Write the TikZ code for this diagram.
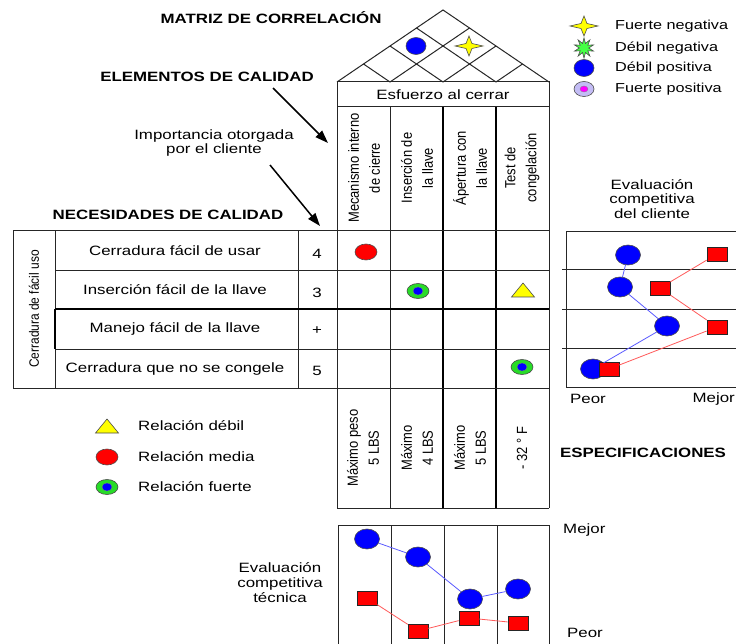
\documentclass[tikz,border=0pt]{standalone}
\usepackage{fontspec}
\setmainfont{Liberation Sans}[FakeStretch=1.25]
\newfontfamily\rotfont{Liberation Sans}[FakeStretch=0.88]
\usetikzlibrary{arrows.meta,shapes.geometric}

\definecolor{qblue}{RGB}{0,0,255}
\definecolor{qred}{RGB}{255,0,0}
\definecolor{qgreen}{RGB}{40,220,40}
\definecolor{qburst}{RGB}{70,255,70}
\definecolor{qyellow}{RGB}{255,255,0}
\definecolor{qlav}{RGB}{195,188,245}
\definecolor{qmag}{RGB}{255,0,255}
\definecolor{qbline}{RGB}{90,90,255}
\definecolor{qrline}{RGB}{255,90,90}

\tikzset{
  grid/.style={line width=1pt, draw=black!85},
  heavy/.style={line width=1.9pt, draw=black},
  txt/.style={font=\fontsize{13.5}{16}\selectfont, inner sep=0pt},
  small/.style={font=\fontsize{13}{15}\selectfont, inner sep=0pt},
  ttl/.style={font=\bfseries\fontsize{13.5}{16}\selectfont, inner sep=0pt},
  vtxt/.style={rotate=90, align=center, inner sep=0pt, font=\rotfont\fontsize{14.7}{21}\selectfont},
  arr/.style={-{Triangle[length=13pt,width=9pt]}, line width=1.5pt},
  sym/.style={draw=black!70, line width=0.6pt, inner sep=0pt},
  bluedot/.style={sym, ellipse, fill=qblue, minimum width=20pt, minimum height=17pt},
  reddot/.style={sym, ellipse, fill=qred, minimum width=22pt, minimum height=16pt},
  strongout/.style={sym, ellipse, fill=qgreen, minimum width=22pt, minimum height=15pt},
  stronginner/.style={ellipse, fill=qblue, draw=black!50, line width=0.3pt, inner sep=0pt, minimum width=10pt, minimum height=8pt},
  lavout/.style={sym, ellipse, fill=qlav, minimum width=20pt, minimum height=15pt},
  lavinner/.style={ellipse, fill=qmag, draw=black!50, line width=0.3pt, inner sep=0pt, minimum width=8pt, minimum height=6pt},
  burst/.style={sym, star, star points=10, star point ratio=2.1, fill=qburst, minimum size=20pt},
  chartdot/.style={sym, ellipse, fill=qblue, minimum width=25pt, minimum height=20pt},
  chartsq/.style={sym, rectangle, fill=qred, draw=black!85, minimum width=20pt, minimum height=14pt},
  bline/.style={draw=qbline, line width=0.8pt},
  rline/.style={draw=qrline, line width=0.8pt},
  pics/fourstar/.style={code={
    \draw[fill=qyellow, draw=black!70, line width=0.6pt]
      (-14,0) -- (-3,-2.5) -- (0,-10) -- (3,-2.5) -- (14,0) -- (3,2.5) -- (0,10) -- (-3,2.5) -- cycle;}},
  pics/triup/.style={code={
    \draw[fill=qyellow, draw=black!70, line width=0.6pt] (0,-8) -- (11.5,6) -- (-11.5,6) -- cycle;}}
}

\begin{document}
\begin{tikzpicture}[x=1pt, y=-1pt]
\useasboundingbox (0,0) rectangle (736,644);
\fill[white] (0,0) rectangle (736,644);

% ---- roof: correlation matrix ----
\draw[grid] (337,82) -- (443,10) -- (549,82);
\draw[grid] (390,82) -- (469.5,28);
\draw[grid] (443,82) -- (496,46);
\draw[grid] (496,82) -- (522.5,64);
\draw[grid] (390,82) -- (363.5,64);
\draw[grid] (443,82) -- (390,46);
\draw[grid] (496,82) -- (416.5,28);
\node[bluedot] (roofdot) at (416,46) {};
\pic (roofstar) at (469,46) {fourstar};

% ---- header box and column headers ----
\draw[grid] (337,82) rectangle (549,107);
\node[txt] (esf) at (443,95) {Esfuerzo al cerrar};
\draw[grid] (337,107) -- (337,508);
\draw[grid] (549,107) -- (549,508);
\draw[grid] (390,107) -- (390,508);
\draw[heavy] (443,107) -- (443,508);
\draw[heavy] (496,107) -- (496,508);
\node[vtxt] (h1) at (364,168) {Mecanismo interno\\de cierre};
\node[vtxt] (h2) at (417,168) {Inserción de\\la llave};
\node[vtxt] (h3) at (470,168) {Ápertura con\\la llave};
\node[vtxt] (h4) at (522,168) {Test de\\congelación};

% ---- needs table and relationship grid ----
\draw[grid] (13,231) -- (549,231);
\draw[grid] (13,388) -- (549,388);
\draw[grid] (13,231) -- (13,388);
\draw[grid] (55,231) -- (55,388);
\draw[grid] (298,231) -- (298,388);
\draw[grid] (55,271) -- (549,271);
\draw[grid] (55,349) -- (549,349);
\draw[heavy] (55,309) -- (549,309);
\draw[heavy] (55,309) -- (55,349);

\node[vtxt, font=\rotfont\fontsize{13.6}{15}\selectfont] (cat) at (34,309) {Cerradura de fácil uso};
\node[txt] (n1) at (175,251) {Cerradura fácil de usar};
\node[txt] (n2) at (175,290) {Inserción fácil de la llave};
\node[txt] (n3) at (175,329) {Manejo fácil de la llave};
\node[txt] (n4) at (175,369) {Cerradura que no se congele};
\node[txt] (w1) at (317,254) {4};
\node[txt] (w2) at (317,293) {3};
\node[txt] (w3) at (317,331) {+};
\node[txt] (w4) at (317,371) {5};

\node[reddot] (r11) at (366,252) {};
\node[strongout] (r22) at (418,291) {};
\node[stronginner] (r22i) at (r22) {};
\pic (r24) at (523,291) {triup};
\node[strongout] (r44) at (522,367) {};
\node[stronginner] (r44i) at (r44) {};

% ---- specifications ----
\draw[grid] (337,508) -- (549,508);
\node[vtxt] (s1) at (363,448) {Máximo peso\\5 LBS};
\node[vtxt] (s2) at (417,448) {Máximo\\4 LBS};
\node[vtxt] (s3) at (470,448) {Máximo\\5 LBS};
\node[vtxt] (s4) at (522,448) {- 32 ° F};
\node[ttl] (espec) at (643,453) {ESPECIFICACIONES};

% ---- titles and arrows ----
\node[ttl] (tcorr) at (271,18) {MATRIZ DE CORRELACIÓN};
\node[ttl] (telem) at (207,77) {ELEMENTOS DE CALIDAD};
\node[txt, align=center, font=\fontsize{13.5}{14}\selectfont] (timp) at (214,143) {Importancia otorgada\\por el cliente};
\node[ttl] (tnec) at (168,215) {NECESIDADES DE CALIDAD};
\coordinate (a1s) at (273,88);
\coordinate (a1e) at (328,143);
\coordinate (a2s) at (270,165);
\coordinate (a2e) at (320,226);
\draw[arr] (a1s) -- (a1e);
\draw[arr] (a2s) -- (a2e);

% ---- correlation legend ----
\pic (lgstar) at (584,26) {fourstar};
\node[burst] (lgburst) at (584,48) {};
\node[bluedot] (lgblue) at (584,68) {};
\node[lavout] (lglav) at (584,89) {};
\node[lavinner] (lglavi) at (lglav) {};
\node[small, anchor=west] (lt1) at (615,26) {Fuerte negativa};
\node[small, anchor=west] (lt2) at (615,48) {Débil negativa};
\node[small, anchor=west] (lt3) at (615,68) {Débil positiva};
\node[small, anchor=west] (lt4) at (615,89) {Fuerte positiva};

% ---- relationship legend ----
\pic (lgtri) at (107,427) {triup};
\node[reddot] (lgred) at (107,457) {};
\node[strongout] (lgstrong) at (107,487) {};
\node[stronginner] (lgstrongi) at (lgstrong) {};
\node[txt, anchor=west] (lr1) at (138,426) {Relación débil};
\node[txt, anchor=west] (lr2) at (138,457) {Relación media};
\node[txt, anchor=west] (lr3) at (138,487) {Relación fuerte};

% ---- customer competitive evaluation ----
\node[txt, align=center, font=\fontsize{13.5}{14.5}\selectfont] (tcli) at (652,199) {Evaluación\\competitiva\\del cliente};
\draw[grid] (736,232) -- (566,232) -- (566,387) -- (736,387);
\draw[grid] (562,270) -- (736,270);
\draw[grid] (562,309) -- (736,309);
\draw[grid] (562,348) -- (736,348);
\node[chartdot] (cb1) at (628,255) {};
\node[chartdot] (cb2) at (620,287) {};
\node[chartdot] (cb3) at (667,326) {};
\node[chartdot] (cb4) at (593,369) {};
\node[chartsq] (cr1) at (717,254) {};
\node[chartsq] (cr2) at (660,288) {};
\node[chartsq] (cr3) at (717,327) {};
\node[chartsq] (cr4) at (609,369) {};
\draw[bline] (cb1) -- (cb2) -- (cb3) -- (cb4);
\draw[rline] (cr1) -- (cr2) -- (cr3) -- (cr4);
\node[txt, anchor=west] (cpeor) at (570,399) {Peor};
\node[txt, anchor=east] (cmejor) at (735,399) {Mejor};

% ---- technical competitive evaluation ----
\node[txt, align=center, font=\fontsize{13.5}{15}\selectfont] (ttec) at (280,583) {Evaluación\\competitiva\\técnica};
\draw[grid] (338,650) -- (338,525) -- (549,525) -- (549,650);
\draw[grid] (391,525) -- (391,650);
\draw[grid] (444,525) -- (444,650);
\draw[grid] (497,525) -- (497,650);
\node[chartdot] (tb1) at (367,539) {};
\node[chartdot] (tb2) at (418,557) {};
\node[chartdot] (tb3) at (470,599) {};
\node[chartdot] (tb4) at (518,589) {};
\node[chartsq] (tr1) at (367,598) {};
\node[chartsq] (tr2) at (418,631) {};
\node[chartsq] (tr3) at (469,618) {};
\node[chartsq] (tr4) at (518,623) {};
\draw[bline] (tb1) -- (tb2) -- (tb3) -- (tb4);
\draw[rline] (tr1) -- (tr2) -- (tr3) -- (tr4);
\node[txt, anchor=west] (tmejor) at (563,530) {Mejor};
\node[txt, anchor=south west] (tpeor) at (567,638) {Peor};
\end{tikzpicture}
\end{document}
